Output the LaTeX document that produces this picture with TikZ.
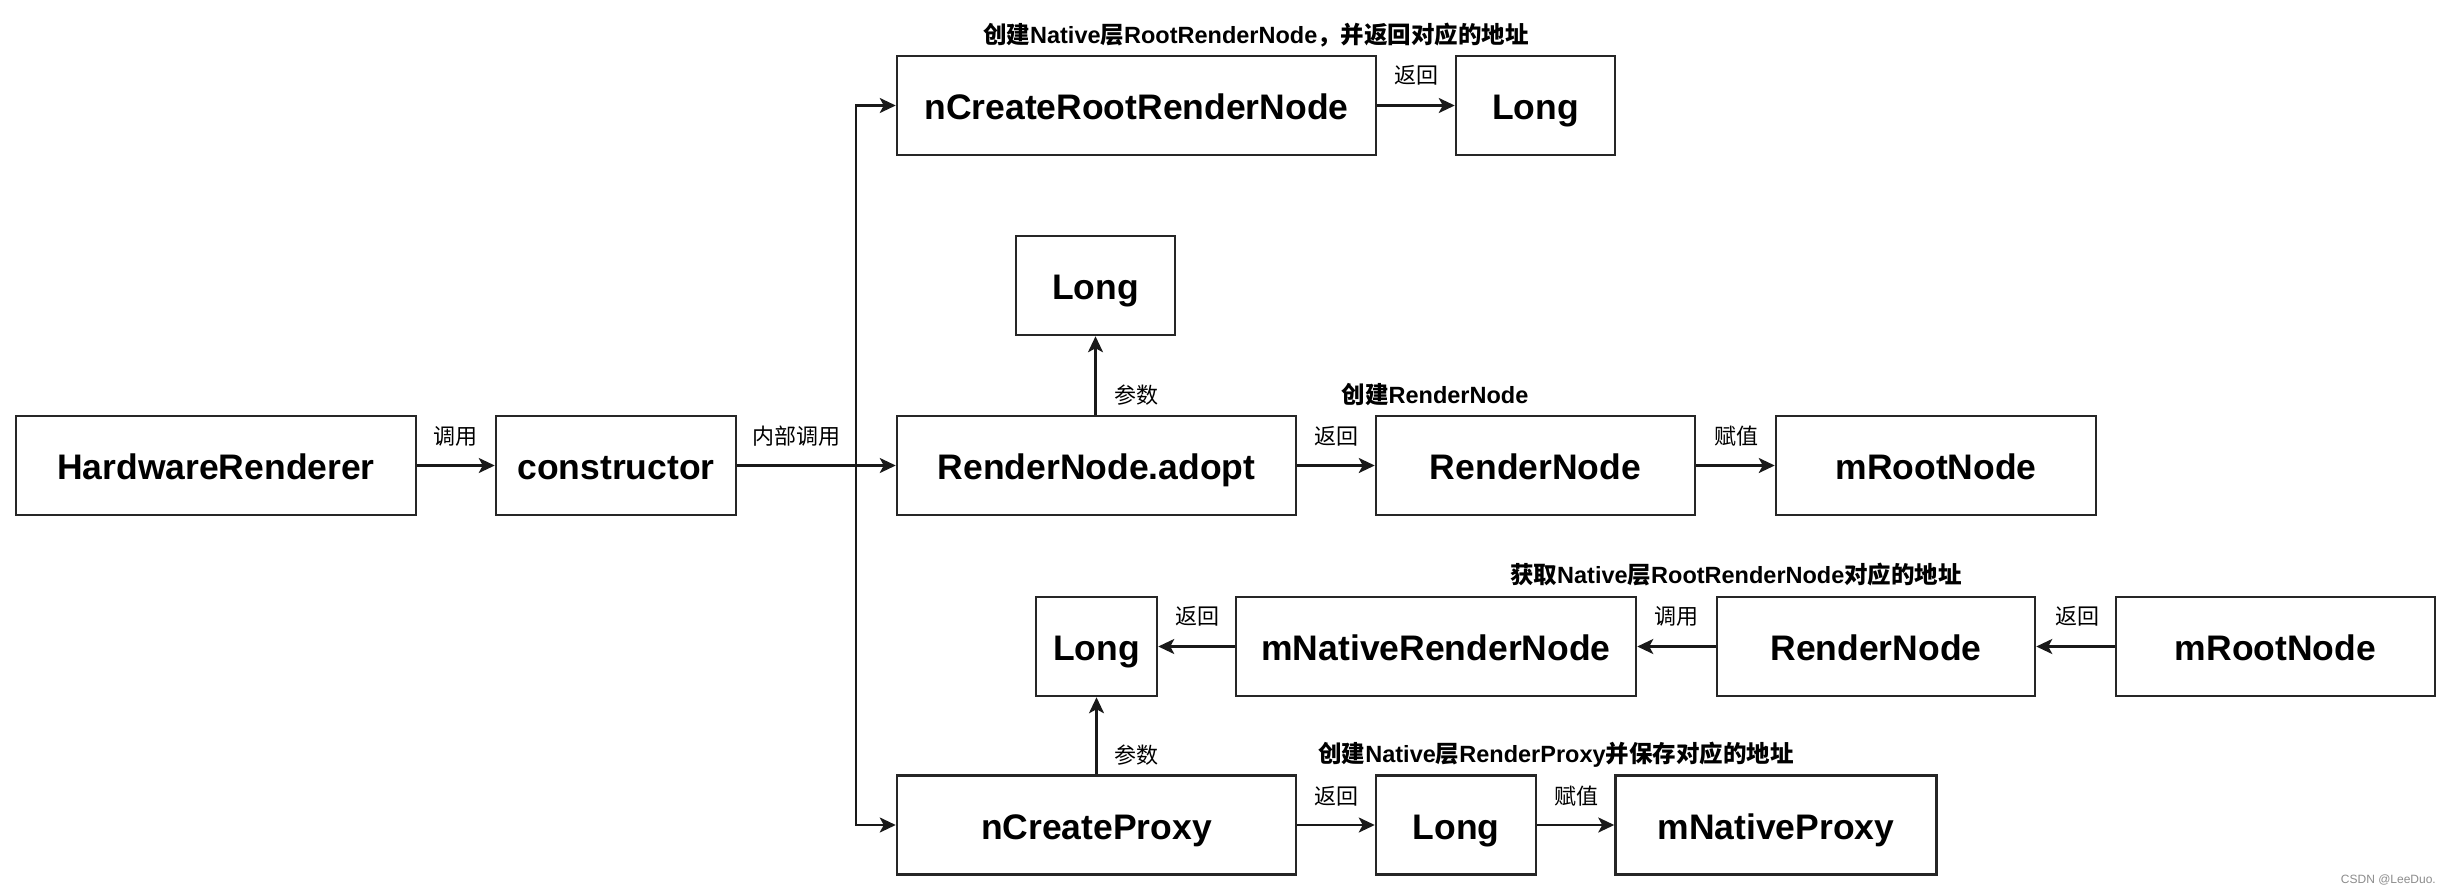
\documentclass[tikz,border=0pt]{standalone}
\usepackage{fontspec}
\setmainfont{Liberation Sans}
\newfontfamily\cjk{Noto Sans CJK SC}
\newcommand\zh[1]{{\cjk #1}}
\usetikzlibrary{arrows.meta}
\begin{document}
\begin{tikzpicture}[x=1pt,y=-1pt,
 box/.style={draw=black!85, line width=2.5pt, fill=white, inner sep=0pt, minimum height=99pt,
   text height=30pt, text depth=2pt,
   font=\fontsize{35.5}{40}\selectfont\bfseries},
 lbl/.style={font=\fontsize{22}{26}\selectfont\cjk, inner sep=0pt},
 ttl/.style={font=\fontsize{23.5}{26}\selectfont\bfseries, inner sep=0pt},
 arr/.style={line width=2.5pt, draw=black!90, -{Stealth[length=16pt,width=15pt,inset=4pt]}},
]
\useasboundingbox (0,0) rectangle (2454,894);
\fill[white] (0,0) rectangle (2454,894);

% nodes
\node[box, minimum width=400pt] (hr) at (216,465.5) {HardwareRenderer};
\node[box, minimum width=240pt] (con) at (616,465.5) {constructor};
\node[box, minimum width=479pt] (ncr) at (1136.5,105.5) {nCreateRootRenderNode};
\node[box, minimum width=159pt] (longt) at (1535.5,105.5) {Long};
\node[box, minimum width=159pt] (longm) at (1095.5,285.5) {Long};
\node[box, minimum width=399pt] (adopt) at (1096.5,465.5) {RenderNode.adopt};
\node[box, minimum width=319pt] (rn) at (1535.5,465.5) {RenderNode};
\node[box, minimum width=320pt] (mroot) at (1936,465.5) {mRootNode};
\node[box, minimum width=121pt] (longl) at (1096.5,646.5) {Long};
\node[box, minimum width=400pt] (mnrn) at (1436,646.5) {mNativeRenderNode};
\node[box, minimum width=318pt] (rn2) at (1876,646.5) {RenderNode};
\node[box, minimum width=319pt] (mroot2) at (2275.5,646.5) {mRootNode};
\node[box, minimum width=399pt] (ncp) at (1096.5,825) {nCreateProxy};
\node[box, minimum width=160pt] (longb) at (1456,825) {Long};
\node[box, minimum width=321pt] (mnp) at (1776,825) {mNativeProxy};

\coordinate (sp) at (856,465.5);

% connectors
\draw[arr] (hr) -- (con);
\draw[arr] (con) -- (adopt);
\draw[arr] (sp) |- (ncr.west);
\draw[arr] (sp) |- (ncp.west);
\draw[arr] (ncr) -- (longt);
\draw[arr] (adopt.north -| longm) -- (longm);
\draw[arr] (adopt) -- (rn);
\draw[arr] (rn) -- (mroot);
\draw[arr] (mroot2) -- (rn2);
\draw[arr] (rn2) -- (mnrn);
\draw[arr] (mnrn) -- (longl);
\draw[arr] (ncp.north -| longl) -- (longl);
\draw[arr] (ncp) -- (longb);
\draw[arr] (longb) -- (mnp);

% edge labels
\node[lbl] (l1) at (455,436) {调用};
\node[lbl] (l2) at (796,436) {内部调用};
\node[lbl] (l3) at (1416,75) {返回};
\node[lbl] (l4) at (1136,395) {参数};
\node[lbl] (l5) at (1336,436) {返回};
\node[lbl] (l6) at (1736,436) {赋值};
\node[lbl] (l7) at (1197,616) {返回};
\node[lbl] (l8) at (1676,616) {调用};
\node[lbl] (l9) at (2077,616) {返回};
\node[lbl] (l10) at (1136,755) {参数};
\node[lbl] (l11) at (1336,796) {返回};
\node[lbl] (l12) at (1576,796) {赋值};

% titles
\node[ttl] (t1) at (1256,35) {\zh{创建}Native\zh{层}RootRenderNode\zh{，并返回对应的地址}};
\node[ttl] (t2) at (1435,395) {\zh{创建}RenderNode};
\node[ttl] (t3) at (1736,575) {\zh{获取}Native\zh{层}RootRenderNode\zh{对应的地址}};
\node[ttl] (t4) at (1556,755) {\zh{创建}Native\zh{层}RenderProxy\zh{并保存对应的地址}};

% watermark
\node[font=\fontsize{12}{14}\selectfont, text=black!45, anchor=east, inner sep=0pt] (wm) at (2436,880) {CSDN @LeeDuo.};
\end{tikzpicture}
\end{document}
